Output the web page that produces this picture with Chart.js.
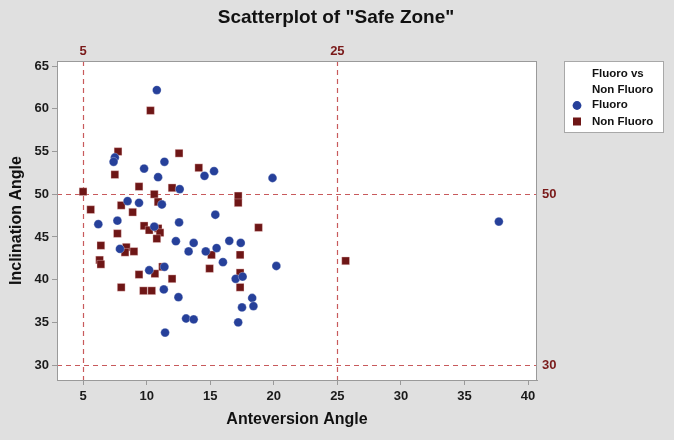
<!DOCTYPE html>
<html>
<head>
<meta charset="utf-8">
<script src="https://cdn.jsdelivr.net/npm/chart.js@4"></script>
<style>
  html, body { margin: 0; padding: 0; background: #e0e0e0; }
  #wrap { width: 674px; height: 440px; }
</style>
</head>
<body>
<div id="wrap"><canvas id="safe-zone-chart" width="674" height="440"></canvas></div>
<script>
// Scatterplot of "Safe Zone" - anteversion vs inclination angle
const TITLE = 'Scatterplot of "Safe Zone"';
const X_TICKS = [5, 10, 15, 20, 25, 30, 35, 40];
const Y_TICKS = [30, 35, 40, 45, 50, 55, 60, 65];
const REF_X = [5, 25];
const REF_Y = [50, 30];

const FLUORO_X = [10.8, 7.5, 7.4, 11.4, 9.8, 10.9, 12.6, 8.5, 9.4, 11.2, 6.2, 7.7, 12.55, 10.6,
  12.3, 13.7, 13.3, 7.9, 10.2, 11.4, 11.35, 12.5, 13.1, 13.7, 11.45, 15.4, 16.5, 17.4, 14.65,
  15.5, 16.0, 20.2, 17.0, 17.55, 18.3, 17.5, 18.4, 17.2, 14.55, 15.3, 19.9, 37.7];
const FLUORO_Y = [62.2, 54.3, 53.8, 53.8, 53.0, 52.0, 50.6, 49.2, 49.0, 48.8, 46.5, 46.9, 46.7, 46.2,
  44.5, 44.3, 43.3, 43.6, 41.1, 41.5, 38.85, 37.95, 35.45, 35.35, 33.8, 47.6, 44.55, 44.3, 43.3,
  43.7, 42.05, 41.6, 40.1, 40.35, 37.85, 36.75, 36.9, 35.0, 52.15, 52.7, 51.9, 46.8];

const NON_FLUORO_X = [10.3, 7.75, 12.55, 14.1, 7.5, 9.4, 12.0, 5.0, 10.6, 10.9, 8.0, 5.6, 8.9, 9.8,
  10.2, 10.9, 11.05, 7.7, 10.8, 6.4, 8.4, 8.3, 9.0, 6.3, 6.4, 11.25, 9.4, 10.65, 12.0, 8.0, 9.75,
  10.4, 17.2, 17.2, 18.8, 15.1, 17.35, 14.95, 17.35, 17.35, 25.65];
const NON_FLUORO_Y = [59.8, 55.0, 54.8, 53.1, 52.3, 50.9, 50.75, 50.3, 50.0, 49.1, 48.7, 48.2, 47.9, 46.3,
  45.8, 46.0, 45.5, 45.4, 44.8, 44.0, 43.8, 43.2, 43.3, 42.3, 41.8, 41.5, 40.6, 40.7, 40.1, 39.1, 38.7,
  38.7, 49.8, 49.0, 46.1, 42.9, 42.9, 41.3, 40.8, 39.1, 42.2];

const COLORS = {
  fluoro: '#26409a',
  nonFluoro: '#6e1616',
  ref: '#c85a5c',
  refLabel: '#7a1a1a',
  frame: '#9a9a9a',
  bg: '#e0e0e0',
  text: '#1a1a1a'
};
const FONT = '"Liberation Sans", Arial, sans-serif';

function toPoints(xs, ys) {
  return xs.map((x, i) => ({ x: x, y: ys[i] }));
}

const backgroundPlugin = {
  id: 'background',
  beforeDraw(chart) {
    const { ctx, chartArea } = chart;
    ctx.save();
    ctx.fillStyle = COLORS.bg;
    ctx.fillRect(0, 0, chart.width, chart.height);
    ctx.fillStyle = '#ffffff';
    ctx.fillRect(chartArea.left, chartArea.top, chartArea.right - chartArea.left, chartArea.bottom - chartArea.top);
    // title, centred on the whole canvas
    ctx.fillStyle = '#111111';
    ctx.font = 'bold 19px ' + FONT;
    ctx.textAlign = 'center';
    ctx.textBaseline = 'middle';
    ctx.fillText(TITLE, 336, 18);
    ctx.restore();
  },
  beforeDatasetsDraw(chart) {
    // dashed reference lines and their labels
    const { ctx, chartArea, scales } = chart;
    ctx.save();
    ctx.strokeStyle = COLORS.ref;
    ctx.lineWidth = 1.2;
    ctx.setLineDash([5, 4]);
    REF_X.forEach(v => {
      const px = Math.round(scales.x.getPixelForValue(v)) + 0.5;
      ctx.beginPath();
      ctx.moveTo(px, chartArea.top);
      ctx.lineTo(px, chartArea.bottom);
      ctx.stroke();
    });
    REF_Y.forEach(v => {
      const py = Math.round(scales.y.getPixelForValue(v)) + 0.5;
      ctx.beginPath();
      ctx.moveTo(chartArea.left, py);
      ctx.lineTo(chartArea.right, py);
      ctx.stroke();
    });
    ctx.setLineDash([]);
    ctx.fillStyle = COLORS.refLabel;
    ctx.font = 'bold 13px ' + FONT;
    ctx.textBaseline = 'middle';
    ctx.textAlign = 'center';
    REF_X.forEach(v => {
      ctx.fillText(String(v), scales.x.getPixelForValue(v), chartArea.top - 10);
    });
    ctx.textAlign = 'left';
    REF_Y.forEach(v => {
      ctx.fillText(String(v), chartArea.right + 5, scales.y.getPixelForValue(v));
    });
    ctx.restore();
  },
  afterDraw(chart) {
    const { ctx, chartArea } = chart;
    ctx.save();
    ctx.strokeStyle = COLORS.frame;
    ctx.lineWidth = 1;
    ctx.strokeRect(chartArea.left + 0.5, chartArea.top + 0.5, chartArea.right - chartArea.left - 1, chartArea.bottom - chartArea.top);

    // legend box
    const lx = 564, ly = 61, lw = 99, lh = 71;
    ctx.fillStyle = '#ffffff';
    ctx.fillRect(lx, ly, lw, lh);
    ctx.strokeStyle = '#a8a8a8';
    ctx.strokeRect(lx + 0.5, ly + 0.5, lw, lh);
    ctx.fillStyle = '#111111';
    ctx.font = 'bold 11.5px ' + FONT;
    ctx.textAlign = 'left';
    ctx.textBaseline = 'middle';
    const tx = 592;
    ctx.fillText('Fluoro vs', tx, 74);
    ctx.fillText('Non Fluoro', tx, 89.5);
    ctx.fillText('Fluoro', tx, 105);
    ctx.fillText('Non Fluoro', tx, 121.5);
    ctx.fillStyle = COLORS.fluoro;
    ctx.beginPath();
    ctx.arc(577, 105.5, 4.4, 0, Math.PI * 2);
    ctx.fill();
    ctx.fillStyle = COLORS.nonFluoro;
    ctx.fillRect(573, 117.5, 8, 8);
    ctx.restore();
  }
};

function initChart() {
  const ctx = document.getElementById('safe-zone-chart');
  new Chart(ctx, {
    type: 'scatter',
    data: {
      datasets: [{
        label: 'Fluoro',
        data: toPoints(FLUORO_X, FLUORO_Y),
        pointStyle: 'circle',
        pointRadius: 4.4,
        pointHoverRadius: 4.4,
        backgroundColor: COLORS.fluoro,
        borderColor: 'rgba(255,255,255,0.5)',
        borderWidth: 0.6
      }, {
        label: 'Non Fluoro',
        data: toPoints(NON_FLUORO_X, NON_FLUORO_Y),
        pointStyle: 'rect',
        pointRadius: 5.5,
        pointHoverRadius: 5.5,
        backgroundColor: COLORS.nonFluoro,
        borderColor: 'rgba(255,220,220,0.6)',
        borderWidth: 0.6
      }]
    },
    options: {
      responsive: false,
      animation: false,
      layout: { padding: { left: 0, top: 61, right: 137, bottom: 0 } },
      plugins: {
        legend: { display: false },
        tooltip: { enabled: false },
        title: { display: false }
      },
      scales: {
        x: {
          type: 'linear',
          min: 2.95,
          max: 40.7,
          afterBuildTicks: scale => { scale.ticks = X_TICKS.map(v => ({ value: v })); },
          afterFit: scale => { scale.height = 60; },
          grid: { drawOnChartArea: false, drawTicks: true, tickLength: 5, color: COLORS.frame },
          border: { display: true, color: COLORS.frame },
          ticks: { color: COLORS.text, padding: 4, font: { family: FONT, size: 13, weight: 'bold' } },
          title: {
            display: true,
            text: 'Anteversion Angle',
            color: '#111111',
            font: { family: FONT, size: 16, weight: 'bold' },
            padding: { top: 0, bottom: 10.5 }
          }
        },
        y: {
          type: 'linear',
          min: 28.25,
          max: 65.6,
          afterBuildTicks: scale => { scale.ticks = Y_TICKS.map(v => ({ value: v })); },
          afterFit: scale => { scale.width = 57; },
          grid: { drawOnChartArea: false, drawTicks: true, tickLength: 5, color: COLORS.frame },
          border: { display: true, color: COLORS.frame },
          ticks: { color: COLORS.text, padding: 3, font: { family: FONT, size: 13, weight: 'bold' } },
          title: {
            display: true,
            text: 'Inclination Angle',
            color: '#111111',
            font: { family: FONT, size: 16, weight: 'bold' },
            padding: { top: 7, bottom: 0 }
          }
        }
      }
    },
    plugins: [backgroundPlugin]
  });
}

document.addEventListener('DOMContentLoaded', initChart);
</script>
</body>
</html>
